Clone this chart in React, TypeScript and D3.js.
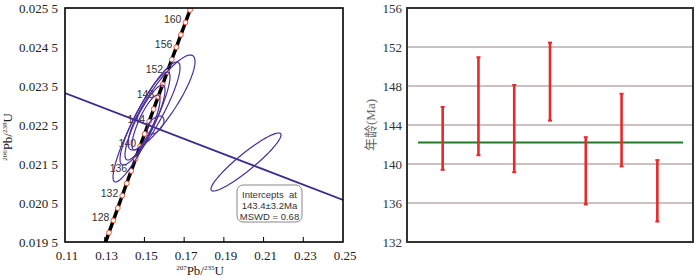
import React from "react";
import * as d3 from "d3";

// concordia plot
const xTicks = [0.11, 0.13, 0.15, 0.17, 0.19, 0.21, 0.23, 0.25];
const yTicks = [0.0195, 0.0205, 0.0215, 0.0225, 0.0235, 0.0245, 0.0255];
const markerAges = [126, 128, 130, 132, 134, 136, 138, 140, 142, 144, 146, 148, 150, 152, 154, 156, 158, 160, 162];
const labelAges = [128, 132, 136, 140, 144, 148, 152, 156, 160];

// error ellipses (2 sigma), 207Pb/235U vs 206Pb/238U
const ellCx = [0.1586, 0.15281, 0.14853, 0.15029, 0.15558, 0.15079, 0.20115];
const ellCy = [0.023077, 0.022795, 0.022449, 0.022564, 0.0225, 0.022564, 0.021551];
const ellSx = [0.01687, 0.01511, 0.01435, 0.01007, 0.00428, 0.00705, 0.01763];
const ellSy = [0.001218, 0.001321, 0.00141, 0.000962, 0.000231, 0.000705, 0.000744];
const ellRho = [0.86, 0.89, 0.91, 0.86, 0.5, 0.82, 0.93];

const discX = [0.11, 0.25];
const discY = [0.023321, 0.020577];

const interceptLines = ["Intercepts  at", "143.4\u00b13.2Ma", "MSWD = 0.68"];

// weighted mean plot
const ageTicks = [132, 136, 140, 144, 148, 152, 156];
const spots = ["1", "2", "3", "4", "5", "6", "7"];
const ageLow = [139.4, 140.9, 139.15, 144.45, 135.85, 139.75, 134.1];
const ageHigh = [145.85, 150.95, 148.1, 152.45, 142.75, 147.2, 140.4];
const meanAge = 142.2;

const L238 = 1.55125e-4; // per Ma
const L235 = 9.8485e-4;
const concX = (t: number) => Math.exp(L235 * t) - 1;
const concY = (t: number) => Math.exp(L238 * t) - 1;

const serif = "'Liberation Serif', 'Times New Roman', serif";
const sans = "'Liberation Sans', Arial, sans-serif";

function Concordia() {
  const x = d3.scaleLinear().domain([0.11, 0.25]).range([65, 343]);
  const y = d3.scaleLinear().domain([0.0195, 0.0255]).range([242, 8]);
  const curve = d3.range(120, 166, 0.5).map((t) => [x(concX(t)), y(concY(t))] as [number, number]);
  const line = d3.line();
  const closed = d3.line().curve(d3.curveLinearClosed);
  const ellipse = (i: number) => {
    const pts: [number, number][] = d3.range(0, 2 * Math.PI, Math.PI / 60).map((a) => {
      const r = ellRho[i];
      const dx = ellSx[i] * Math.cos(a);
      const dy = ellSy[i] * (r * Math.cos(a) + Math.sqrt(1 - r * r) * Math.sin(a));
      return [x(ellCx[i] + dx), y(ellCy[i] + dy)];
    });
    return closed(pts) as string;
  };
  const yFmt = (v: number) => {
    const s = d3.format(".4f")(v);
    return s.slice(0, 5) + " " + s.slice(5);
  };
  return (
    <g>
      <defs>
        <clipPath id="lclip">
          <rect x={65} y={8} width={278} height={234} />
        </clipPath>
      </defs>
      <g clipPath="url(#lclip)">
        <path d={line(curve) as string} fill="none" stroke="#000" strokeWidth={3.5} />
        {markerAges.map((t) => (
          <circle key={t} cx={x(concX(t))} cy={y(concY(t))} r={2.4} fill="#fff" stroke="#f05a3c" strokeWidth={1} />
        ))}
        {labelAges.map((t) => (
          <text key={t} x={x(concX(t)) - 4} y={y(concY(t)) + 1} textAnchor="end" fontFamily={sans} fontSize={10.5} fill="#333">
            {t}
          </text>
        ))}
        <path
          d={line(discX.map((v, i) => [x(v), y(discY[i])] as [number, number])) as string}
          fill="none"
          stroke="#3d2a8c"
          strokeWidth={1.8}
        />
        {ellCx.map((_, i) => (
          <path key={i} d={ellipse(i)} fill="none" stroke="#4a2f9a" strokeWidth={1.2} />
        ))}
      </g>
      <rect x={65} y={8} width={278} height={234} fill="none" stroke="#000" strokeWidth={1.6} />
      {xTicks.slice(1, -1).map((v) => (
        <line key={v} x1={x(v)} x2={x(v)} y1={242} y2={237} stroke="#000" strokeWidth={1} />
      ))}
      {xTicks.map((v) => (
        <text key={v} x={x(v) + 2} y={260} textAnchor="middle" fontFamily={serif} fontSize={13} fill="#222">
          {d3.format(".2f")(v)}
        </text>
      ))}
      {yTicks.map((v) => (
        <text key={v} x={58} y={y(v) + 5} textAnchor="end" fontFamily={serif} fontSize={13} fill="#222">
          {yFmt(v)}
        </text>
      ))}
      <text x={200} y={275} textAnchor="middle" fontFamily={serif} fontSize={13} fill="#222">
        <tspan fontSize={7} dy={-5}>207</tspan>
        <tspan dy={5}>Pb/</tspan>
        <tspan fontSize={7} dy={-5}>235</tspan>
        <tspan dy={5}>U</tspan>
      </text>
      <text transform="translate(12,137) rotate(-90)" textAnchor="middle" fontFamily={serif} fontSize={13} fill="#222">
        <tspan fontSize={7} dy={-5}>206</tspan>
        <tspan dy={5}>Pb/</tspan>
        <tspan fontSize={7} dy={-5}>238</tspan>
        <tspan dy={5}>U</tspan>
      </text>
      <rect x={237} y={185} width={65} height={37} rx={6} fill="#fff" stroke="#888" strokeWidth={1} />
      {interceptLines.map((s, i) => (
        <text key={i} x={269.5} y={198 + i * 11} textAnchor="middle" fontFamily={sans} fontSize={9.5} fill="#333" xmlSpace="preserve">
          {s}
        </text>
      ))}
    </g>
  );
}

function MeanPlot() {
  const x = d3.scaleBand().domain(["", ...spots, " "]).range([389, 711]);
  const y = d3.scaleLinear().domain([132, 156]).range([242, 8]);
  const cx = (s: string) => (x(s) as number) + x.bandwidth() / 2;
  return (
    <g>
      {ageTicks.slice(1, -1).map((v) => (
        <line key={v} x1={407} x2={693} y1={y(v)} y2={y(v)} stroke="#b8aeac" strokeWidth={1.5} />
      ))}
      <line x1={418} x2={683} y1={y(meanAge)} y2={y(meanAge)} stroke="#1f7a2c" strokeWidth={2} />
      {spots.map((s, i) => (
        <g key={s} stroke="#e8282a">
          <line x1={cx(s)} x2={cx(s)} y1={y(ageLow[i])} y2={y(ageHigh[i])} strokeWidth={2.6} />
          <line x1={cx(s) - 2} x2={cx(s) + 2} y1={y(ageLow[i])} y2={y(ageLow[i])} strokeWidth={2} />
          <line x1={cx(s) - 2} x2={cx(s) + 2} y1={y(ageHigh[i])} y2={y(ageHigh[i])} strokeWidth={2} />
        </g>
      ))}
      <rect x={407} y={8} width={286} height={234} fill="none" stroke="#333" strokeWidth={2} />
      {ageTicks.map((v) => (
        <text key={v} x={402} y={y(v) + 5} textAnchor="end" fontFamily={serif} fontSize={13} fill="#333">
          {v}
        </text>
      ))}
      <text
        transform={`translate(375,${y(144)}) rotate(-90)`}
        textAnchor="middle"
        fontFamily={`${serif}, 'Noto Sans CJK SC'`}
        fontSize={13}
        fill="#666"
      >
        年龄(Ma)
      </text>
    </g>
  );
}

export default function App() {
  return (
    <svg width={700} height={278} viewBox="0 0 700 278" style={{ position: "absolute", left: 0, top: 0, background: "#fff" }}>
      <Concordia />
      <MeanPlot />
    </svg>
  );
}
